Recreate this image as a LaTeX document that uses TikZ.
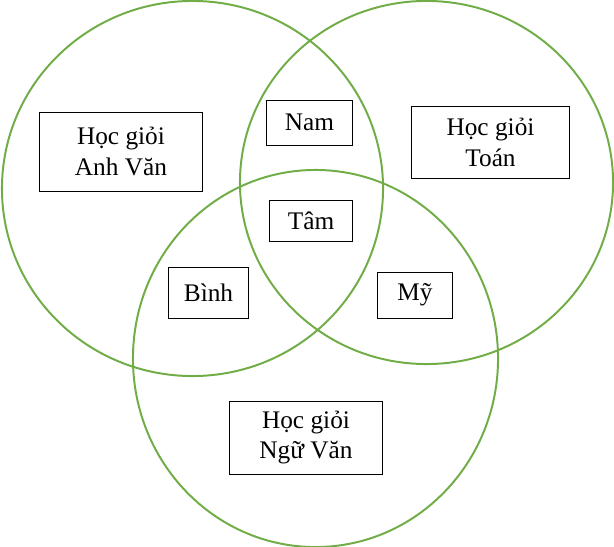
\documentclass[tikz,border=0pt]{standalone}
\usepackage{fontspec}
\setmainfont{Liberation Serif}
\usepackage{tikz}
\definecolor{venngreen}{RGB}{112, 173, 71}
\tikzset{
  setcircle/.style={draw=venngreen, line width=1.4pt},
  namebox/.style={draw, line width=0.7pt, inner sep=0pt, align=center,
    font=\fontsize{18pt}{22pt}\selectfont}
}

\begin{document}
\begin{tikzpicture}[x=0.025cm, y=-0.025cm]
  \useasboundingbox (0, 0) rectangle (614, 547);

  % Three sets
  \draw[setcircle] (192.5, 188.5) ellipse [x radius=4.7625cm, y radius=4.6875cm];
  \draw[setcircle] (426.5, 182.5) ellipse [x radius=4.6625cm, y radius=4.5375cm];
  \draw[setcircle] (315.5, 358.5) ellipse [x radius=4.5625cm, y radius=4.7125cm];

  % Set labels
  \node[namebox, minimum width=4.05cm, minimum height=1.975cm] (anh) at (121, 151.5) {Học giỏi\\Anh Văn};
  \node[namebox, minimum width=3.925cm, minimum height=1.8cm] (toan) at (490.5, 142) {Học giỏi\\Toán};
  \node[namebox, minimum width=3.8cm, minimum height=1.825cm] (nguvan) at (306, 437.5) {Học giỏi\\Ngữ Văn};

  % Students
  \node[namebox, minimum width=2.125cm, minimum height=1.125cm] (nam) at (309.5, 122.5) {Nam};
  \node[namebox, minimum width=2.05cm, minimum height=1.025cm] (tam) at (311, 220.5) {Tâm};
  \node[namebox, minimum width=1.975cm, minimum height=1.275cm] (binh) at (208.5, 292.5) {Bình};
  \node[namebox, minimum width=1.85cm, minimum height=1.15cm] (my) at (415, 295) {Mỹ};
\end{tikzpicture}
\end{document}
